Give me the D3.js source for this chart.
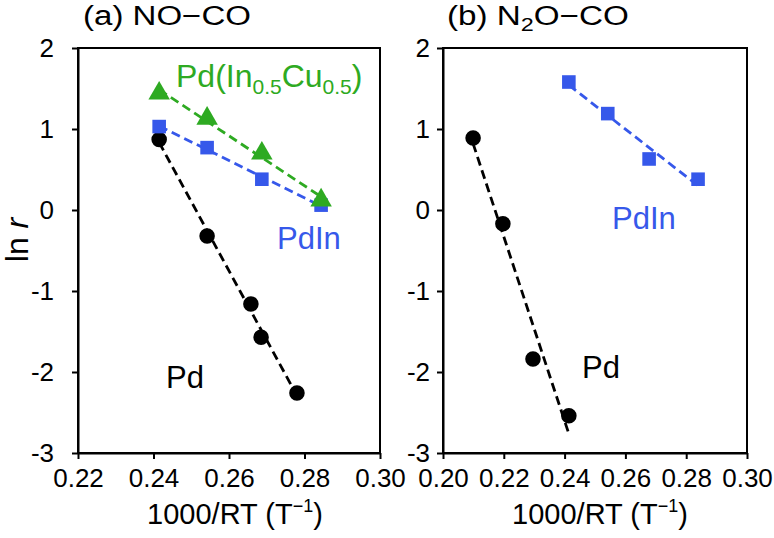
<!DOCTYPE html>
<html>
<head>
<meta charset="utf-8">
<script src="https://cdn.jsdelivr.net/npm/d3@7"></script>
<style>
  html, body { margin: 0; padding: 0; background: #fff; }
  svg { display: block; font-family: Arial, "Liberation Sans", sans-serif; }
</style>
</head>
<body>
<svg id="chart" width="774" height="538"></svg>
<script>
// ---- data ----
const yTicks = [-3, -2, -1, 0, 1, 2];
const xTicksA = [0.22, 0.24, 0.26, 0.28, 0.30];
const xTicksB = [0.20, 0.22, 0.24, 0.26, 0.28, 0.30];

// panel (a) NO-CO
const aPdX = [0.2415, 0.2542, 0.2658, 0.2685, 0.2780];
const aPdY = [0.87, -0.32, -1.16, -1.57, -2.26];
const aPdInX = [0.2415, 0.2542, 0.2687, 0.2844];
const aPdInY = [1.03, 0.77, 0.38, 0.06];
const aPdInCuX = [0.2415, 0.2542, 0.2687, 0.2844];
const aPdInCuY = [1.44, 1.13, 0.70, 0.12];

// panel (b) N2O-CO
const bPdX = [0.2099, 0.2197, 0.2296, 0.2414];
const bPdY = [0.89, -0.17, -1.84, -2.54];
const bPdInX = [0.2414, 0.2542, 0.2678, 0.2839];
const bPdInY = [1.58, 1.19, 0.63, 0.38];

const BLUE = "#3658ea";
const GREEN = "#2eaa22";
const BLACK = "#000";

const svg = d3.select("#chart");

function fit(xs, ys) {
  const n = xs.length;
  const mx = d3.mean(xs), my = d3.mean(ys);
  let sxy = 0, sxx = 0;
  for (let i = 0; i < n; i++) { sxy += (xs[i]-mx)*(ys[i]-my); sxx += (xs[i]-mx)**2; }
  const m = sxy / sxx;
  return x => my + m * (x - mx);
}

function panel(cfg) {
  const g = svg.append("g");
  const x = d3.scaleLinear().domain(cfg.xDomain).range([cfg.left, cfg.right]);
  const y = d3.scaleLinear().domain([-3, 2]).range([cfg.bottom, cfg.top]);

  // frame
  g.append("rect").attr("x", cfg.left).attr("y", cfg.top)
    .attr("width", cfg.right - cfg.left).attr("height", cfg.bottom - cfg.top)
    .attr("fill", "none").attr("stroke", "#000").attr("stroke-width", 2);

  const ya = g.append("g").attr("transform", `translate(${cfg.left},0)`)
    .call(d3.axisLeft(y).tickValues(yTicks).tickFormat(d3.format("d"))
      .tickSize(6).tickSizeOuter(0).tickPadding(cfg.yPad));
  const xa = g.append("g").attr("transform", `translate(0,${cfg.bottom})`)
    .call(d3.axisBottom(x).tickValues(cfg.xTicks).tickFormat(d3.format(".2f"))
      .tickSize(6).tickSizeOuter(0).tickPadding(10));
  [ya, xa].forEach(a => {
    a.select(".domain").attr("stroke-width", 2);
    a.selectAll(".tick line").attr("stroke-width", 2);
    a.selectAll("text").attr("font-size", 26).attr("fill", "#000")
      .attr("font-family", "Arial, 'Liberation Sans', sans-serif");
  });
  ya.selectAll("text").text(d => d < 0 ? "-" + Math.abs(d) : d);

  // series
  cfg.series.forEach(s => {
    const f = fit(s.x, s.y);
    const x0 = d3.min(s.x), x1 = d3.max(s.x);
    g.append("line")
      .attr("x1", x(x0)).attr("y1", y(f(x0)))
      .attr("x2", x(x1)).attr("y2", y(f(x1)))
      .attr("stroke", s.color).attr("stroke-width", 2.8)
      .attr("stroke-dasharray", "9,5");
    const pts = s.x.map((v, i) => [v, s.y[i]]);
    g.selectAll(null).data(pts).enter().append("path")
      .attr("transform", d => `translate(${x(d[0])},${y(d[1])})`)
      .attr("d", d3.symbol().type(s.shape).size(s.size))
      .attr("fill", s.color);
  });

  // title
  const t = g.append("text").attr("x", cfg.titleX).attr("y", 25)
    .attr("font-size", 27).attr("fill", "#000");
  cfg.title.forEach(p => {
    const ts = t.append("tspan").text(p.t);
    if (p.sub) ts.attr("font-size", 19).attr("dy", 6);
    if (p.back) ts.attr("dy", -6);
  });
  t.attr("textLength", cfg.titleW).attr("lengthAdjust", "spacingAndGlyphs");

  // x label
  const xl = g.append("text").attr("x", (cfg.left + cfg.right) / 2 + cfg.xlShift)
    .attr("y", 524).attr("text-anchor", "middle").attr("font-size", 29).attr("fill", "#000");
  xl.append("tspan").text("1000/RT (T");
  xl.append("tspan").text("\u22121").attr("font-size", 18).attr("dy", -12);
  xl.append("tspan").text(")").attr("dy", 12);

  // annotations
  cfg.labels.forEach(l => {
    const tx = g.append("text").attr("x", l.x).attr("y", l.y)
      .attr("font-size", l.size || 31).attr("fill", l.color);
    l.parts.forEach(p => {
      const ts = tx.append("tspan").text(p.t);
      if (p.sub) ts.attr("font-size", 21).attr("dy", 7);
      if (p.back) ts.attr("dy", -7);
    });
  });
}

panel({
  left: 78, right: 380, top: 48, bottom: 453,
  xDomain: [0.22, 0.30], xTicks: xTicksA, yPad: 18,
  titleX: 83, titleW: 168, xlShift: 6,
  title: [{t: "(a) NO\u2212CO"}],
  series: [
    {x: aPdX, y: aPdY, color: BLACK, shape: d3.symbolCircle, size: 190},
    {x: aPdInX, y: aPdInY, color: BLUE, shape: d3.symbolSquare, size: 185},
    {x: aPdInCuX, y: aPdInCuY, color: GREEN, shape: d3.symbolTriangle, size: 200}
  ],
  labels: [
    {x: 176, y: 87, color: GREEN, size: 32, parts: [
      {t: "Pd(In"}, {t: "0.5", sub: true}, {t: "Cu", back: true},
      {t: "0.5", sub: true}, {t: ")", back: true}]},
    {x: 277, y: 249, color: BLUE, parts: [{t: "PdIn"}]},
    {x: 166, y: 388, color: "#000", parts: [{t: "Pd"}]}
  ]
});

panel({
  left: 443, right: 747, top: 48, bottom: 453,
  xDomain: [0.20, 0.30], xTicks: xTicksB, yPad: 7,
  titleX: 447, titleW: 182, xlShift: 5,
  title: [{t: "(b) N"}, {t: "2", sub: true}, {t: "O\u2212CO", back: true}],
  series: [
    {x: bPdX, y: bPdY, color: BLACK, shape: d3.symbolCircle, size: 190},
    {x: bPdInX, y: bPdInY, color: BLUE, shape: d3.symbolSquare, size: 185}
  ],
  labels: [
    {x: 612, y: 229, color: BLUE, parts: [{t: "PdIn"}]},
    {x: 582, y: 378, color: "#000", parts: [{t: "Pd"}]}
  ]
});

// y label
const yl = svg.append("text").attr("transform", "translate(28,240) rotate(-90)")
  .attr("text-anchor", "middle").attr("font-size", 32).attr("fill", "#000");
yl.append("tspan").text("ln ");
yl.append("tspan").text("r").attr("font-style", "italic");
</script>
</body>
</html>
